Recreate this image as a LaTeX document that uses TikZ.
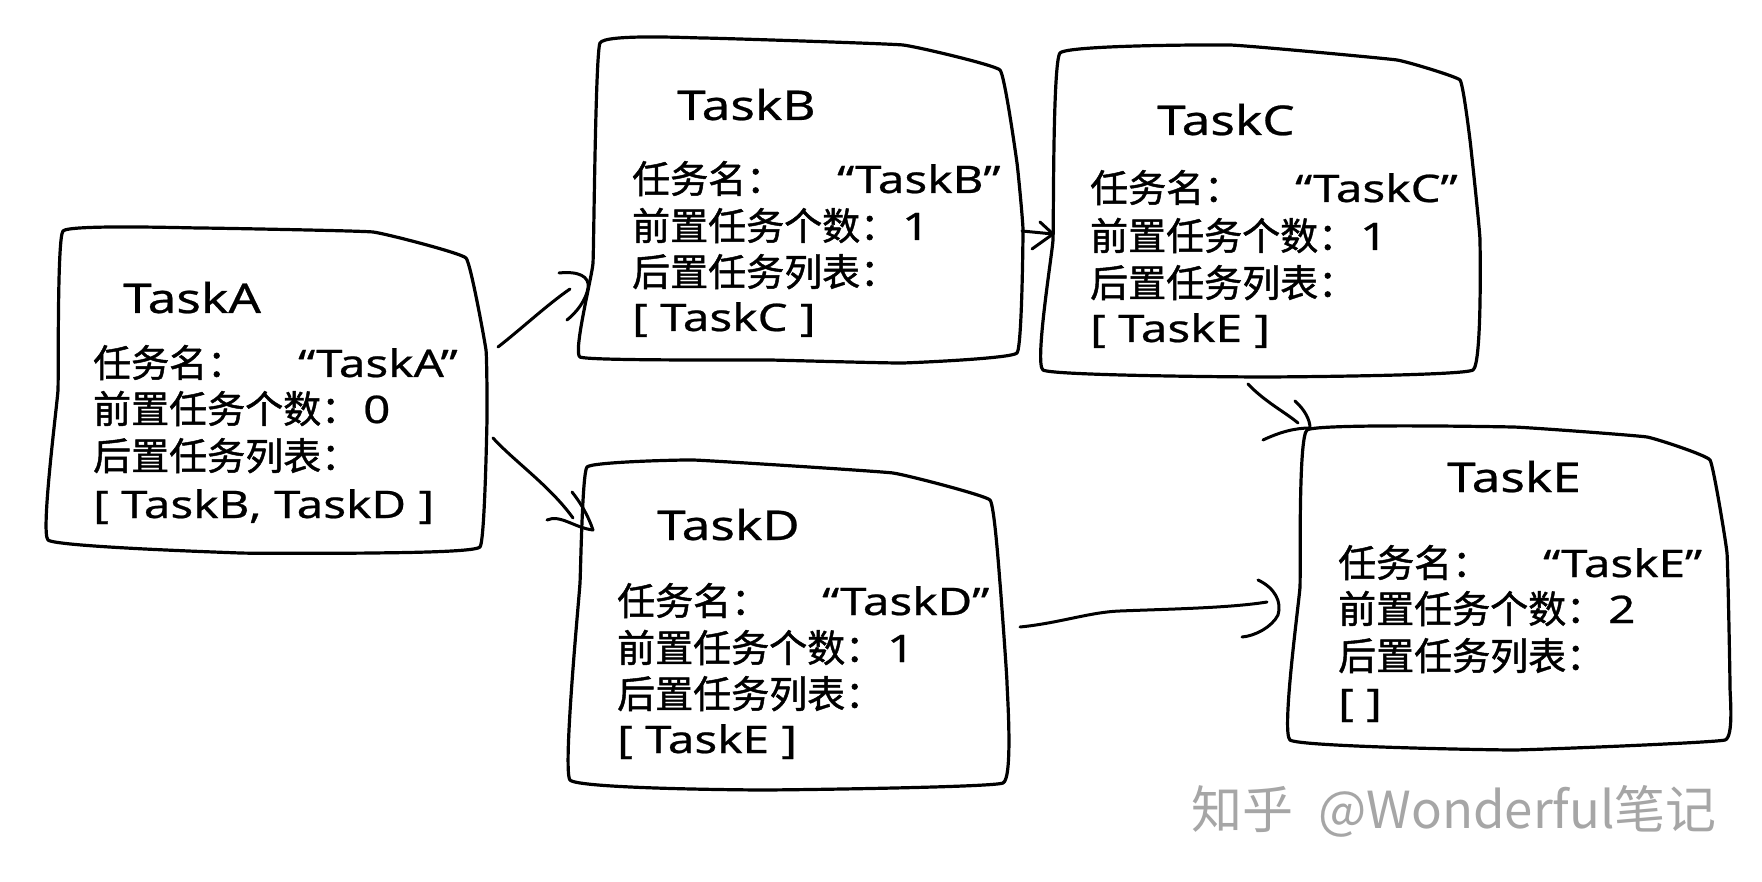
\documentclass[tikz,border=0pt]{standalone}
\usepackage{fontspec}
\setmainfont{Noto Sans CJK SC}
\newfontfamily\cjk[FakeBold=1.2]{Noto Sans CJK SC}
\newfontfamily\lat[FakeStretch=1.25,FakeBold=0.6]{Noto Sans}
\newfontfamily\wmfont{Noto Sans CJK SC}
\begin{document}
\begin{tikzpicture}[x=1pt,y=-1pt,
  box/.style={line width=3.2pt, line join=round, line cap=round},
  conn/.style={line width=3pt, line cap=round, line join=round},
  ttl/.style={anchor=base west, inner sep=0pt, font=\lat\fontsize{41}{41}\selectfont},
  txt/.style={anchor=base west, inner sep=0pt, font=\cjk\fontsize{38}{38}\selectfont},
  wm/.style={anchor=base west, inner sep=0pt, text=black!35, font=\wmfont\fontsize{51}{51}\selectfont}]
\useasboundingbox (0,0) rectangle (1762,882);
\fill[white] (0,0) rectangle (1762,882);

% ---------- boxes ----------
\draw[box] plot[smooth cycle, tension=0.15] coordinates {(63,231) (200,228) (373,232) (466,258) (486,350) (487,420) (480,547) (373,553) (240,553) (48,540) (58,390)};
\draw[box] plot[smooth cycle, tension=0.15] coordinates {(600,43) (703,38) (903,45) (1000,70) (1017,163) (1023,230) (1017,353) (903,363) (770,360) (580,357) (593,263)};
\draw[box] plot[smooth cycle, tension=0.15] coordinates {(1060,53) (1230,45) (1397,60) (1460,80) (1470,140) (1480,240) (1473,370) (1263,377) (1043,370) (1053,240)};
\draw[box] plot[smooth cycle, tension=0.15] coordinates {(587,467) (693,460) (893,473) (990,500) (1000,583) (1007,683) (1003,783) (760,790) (570,780) (580,583)};
\draw[box] plot[smooth cycle, tension=0.15] coordinates {(1307,430) (1513,427) (1647,437) (1710,460) (1727,553) (1730,687) (1725,740) (1513,750) (1290,740) (1300,587)};

% ---------- TaskA ----------
\node[ttl] (a0) at (123,313) {TaskA};
\node[txt] (a1) at (93,377) {\makebox[205pt][l]{任务名：}{\lat “TaskA”}};
\node[txt] (a2) at (93,423) {前置任务个数：\hspace{4pt}{\lat 0}};
\node[txt] (a3) at (93,470) {后置任务列表：};
\node[txt] (a4) at (93,518) {{\lat [ TaskB, TaskD ]}};

% ---------- TaskB ----------
\node[ttl] (b0) at (677,120) {TaskB};
\node[txt] (b1) at (632,193) {\makebox[205pt][l]{任务名：}{\lat “TaskB”}};
\node[txt] (b2) at (632,240) {前置任务个数：\hspace{4pt}{\lat 1}};
\node[txt] (b3) at (632,286) {后置任务列表：};
\node[txt] (b4) at (632,331) {{\lat [ TaskC ]}};

% ---------- TaskC ----------
\node[ttl] (c0) at (1157,135) {TaskC};
\node[txt] (c1) at (1090,202) {\makebox[205pt][l]{任务名：}{\lat “TaskC”}};
\node[txt] (c2) at (1090,250) {前置任务个数：\hspace{4pt}{\lat 1}};
\node[txt] (c3) at (1090,297) {后置任务列表：};
\node[txt] (c4) at (1090,342) {{\lat [ TaskE ]}};

% ---------- TaskD ----------
\node[ttl] (d0) at (657,540) {TaskD};
\node[txt] (d1) at (617,615) {\makebox[205pt][l]{任务名：}{\lat “TaskD”}};
\node[txt] (d2) at (617,662) {前置任务个数：\hspace{4pt}{\lat 1}};
\node[txt] (d3) at (617,708) {后置任务列表：};
\node[txt] (d4) at (617,753) {{\lat [ TaskE ]}};

% ---------- TaskE ----------
\node[ttl] (e0) at (1447,492) {TaskE};
\node[txt] (e1) at (1338,577) {\makebox[205pt][l]{任务名：}{\lat “TaskE”}};
\node[txt] (e2) at (1338,623) {前置任务个数：\hspace{4pt}{\lat 2}};
\node[txt] (e3) at (1338,670) {后置任务列表：};
\node[txt] (e4) at (1338,716) {{\lat [ ]}};

% ---------- connectors ----------
% A -> B
\coordinate (ab1) at (498,347); \coordinate (ab2) at (570,289); \coordinate (abT) at (588,288);
\draw[conn] (ab1) .. controls (520,330) and (548,304) .. (ab2);
\draw[conn] (559,273) .. controls (578,271) and (590,276) .. (abT) .. controls (586,300) and (577,312) .. (567,320);
% A -> D
\coordinate (ad1) at (493,438); \coordinate (ad2) at (573,518); \coordinate (adT) at (593,530);
\draw[conn] (ad1) .. controls (515,462) and (550,486) .. (ad2);
\draw[conn] (547,520) .. controls (560,514) and (575,528) .. (adT);
\draw[conn] (572,492) .. controls (580,502) and (588,515) .. (adT);
% B -> C
\coordinate (bc1) at (1022,231); \coordinate (bcT) at (1053,234);
\draw[conn] (bc1) -- (bcT);
\draw[conn] (1040,222) -- (bcT) -- (1032,249);
% C -> E
\coordinate (ce1) at (1248,384); \coordinate (ce2) at (1298,423); \coordinate (ceT) at (1310,428);
\draw[conn] (ce1) .. controls (1265,402) and (1285,412) .. (ce2);
\draw[conn] (1295,401) .. controls (1305,410) and (1310,420) .. (ceT);
\draw[conn] (1263,440) .. controls (1280,432) and (1295,428) .. (ceT);
% D -> E
\coordinate (de1) at (1020,627); \coordinate (de2) at (1267,602); \coordinate (deT) at (1278,615);
\draw[conn] (de1) .. controls (1060,623) and (1090,612) .. (1120,611) .. controls (1170,609) and (1230,608) .. (de2);
\draw[conn] (1258,580) .. controls (1275,588) and (1282,602) .. (deT) .. controls (1272,627) and (1255,636) .. (1242,637);

% ---------- watermark ----------
\node[wm] (wm) at (1191,828) {知乎\hspace{25pt}{@Wonderful}笔记};
\end{tikzpicture}
\end{document}
